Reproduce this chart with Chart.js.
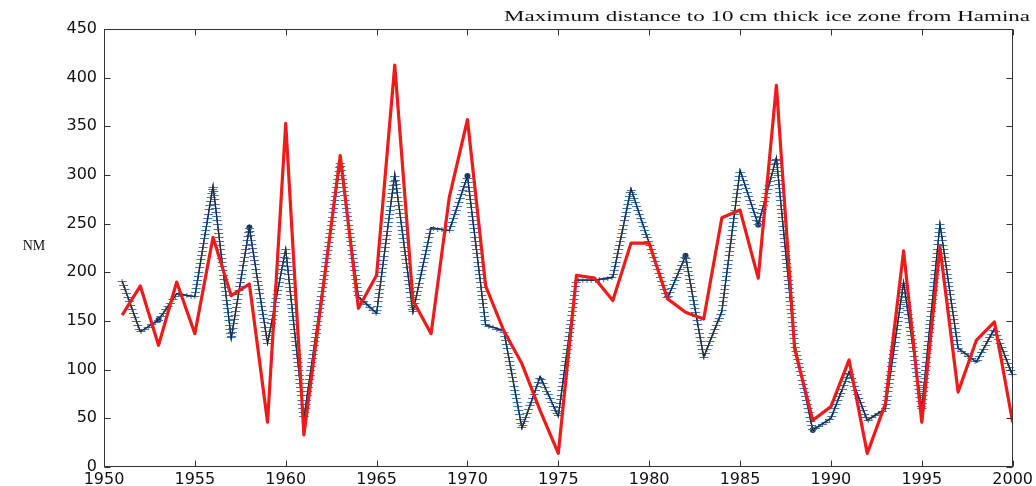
<!DOCTYPE html>
<html>
<head>
<meta charset="utf-8">
<script src="https://cdn.jsdelivr.net/npm/chart.js@4.4.0/dist/chart.umd.min.js"></script>
<style>
  html, body { margin: 0; padding: 0; background: #fff; }
  #wrap { width: 1036px; height: 486px; }
</style>
</head>
<body>
<div id="wrap"><canvas id="hamina"></canvas></div>
<script>
// Years and the two yearly series (NM)
const years = [1951, 1952, 1953, 1954, 1955, 1956, 1957, 1958, 1959, 1960,
               1961, 1962, 1963, 1964, 1965, 1966, 1967, 1968, 1969, 1970,
               1971, 1972, 1973, 1974, 1975, 1976, 1977, 1978, 1979, 1980,
               1981, 1982, 1983, 1984, 1985, 1986, 1987, 1988, 1989, 1990,
               1991, 1992, 1993, 1994, 1995, 1996, 1997, 1998, 1999, 2000];
const redDist = [156, 186, 125, 190, 137, 236, 176, 188, 46, 353,
                 33, 176, 320, 163, 197, 413, 171, 137, 277, 357,
                 186, 140, 106, 58, 14, 197, 194, 171, 230, 230,
                 173, 159, 152, 256, 264, 194, 392, 122, 48, 62,
                 110, 14, 65, 222, 46, 226, 77, 130, 149, 46];
const blueDist = [191, 139, 151, 178, 175, 289, 132, 246, 127, 224,
                  50, 181, 313, 175, 158, 301, 159, 246, 243, 299,
                  146, 140, 40, 93, 52, 192, 192, 195, 286, 230,
                  173, 217, 113, 160, 305, 249, 318, 127, 38, 50,
                  98, 48, 60, 190, 60, 250, 122, 108, 142, 94];
// years where the blue curve has a dot
const blueDots = [1953, 1958, 1970, 1982, 1986, 1989];

const xTicks = [1950, 1955, 1960, 1965, 1970, 1975, 1980, 1985, 1990, 1995, 2000];
const yTicks = [0, 50, 100, 150, 200, 250, 300, 350, 400, 450];

const titleText = 'Maximum distance to 10 cm thick ice zone from Hamina';

// caja con marcas hacia dentro en los cuatro lados
const boxFrame = {
  id: 'boxFrame',
  afterDraw(chart) {
    const ctx = chart.ctx;
    const a = chart.chartArea;
    const xs = chart.scales.x, ys = chart.scales.y;
    ctx.save();
    ctx.strokeStyle = '#333';
    ctx.lineWidth = 1;
    const L = Math.round(a.left) + 0.5, R = Math.round(a.right) - 0.5;
    const T = Math.round(a.top) + 0.5, B = Math.round(a.bottom) - 0.5;
    ctx.strokeRect(L, T, R - L, B - T);
    ctx.beginPath();
    xTicks.forEach(v => {
      const px = Math.round(xs.getPixelForValue(v)) + 0.5;
      ctx.moveTo(px, B); ctx.lineTo(px, B - 6);
      ctx.moveTo(px, T); ctx.lineTo(px, T + 6);
    });
    yTicks.forEach(v => {
      const py = Math.round(ys.getPixelForValue(v)) + 0.5;
      ctx.moveTo(L, py); ctx.lineTo(L + 6, py);
      ctx.moveTo(R, py); ctx.lineTo(R - 6, py);
    });
    ctx.stroke();
    ctx.restore();
  }
};

// marcas '+' muy juntas a lo largo de la curva azul
const plusMarks = {
  id: 'plusMarks',
  afterDatasetDraw(chart, args) {
    if (args.index !== 1) return;
    const pts = args.meta.data;
    const ctx = chart.ctx;
    const step = 4.2;
    ctx.save();
    ctx.lineWidth = 1;
    ctx.strokeStyle = '#3d72b4';
    ctx.beginPath();
    let carry = 0;
    for (let i = 1; i < pts.length; i++) {
      const p0 = pts[i - 1], p1 = pts[i];
      const dx = p1.x - p0.x, dy = p1.y - p0.y;
      const len = Math.hypot(dx, dy);
      let d = carry;
      while (d <= len) {
        const px = p0.x + dx * d / len;
        const py = Math.round(p0.y + dy * d / len) + 0.5;
        ctx.moveTo(px - 4.5, py); ctx.lineTo(px + 4.5, py);
        ctx.moveTo(px, py - 2.5); ctx.lineTo(px, py + 2.5);
        d += step;
      }
      carry = d - len;
    }
    ctx.stroke();
    // la linea oscura encima de las marcas
    ctx.strokeStyle = '#1c2838';
    ctx.lineWidth = 1.2;
    ctx.beginPath();
    pts.forEach((p, i) => i ? ctx.lineTo(p.x, p.y) : ctx.moveTo(p.x, p.y));
    ctx.stroke();
    ctx.restore();
  }
};

// titulo arriba a la derecha (ensanchado) y etiqueta NM horizontal
const labels = {
  id: 'labels',
  afterDraw(chart) {
    const ctx = chart.ctx;
    ctx.save();
    ctx.fillStyle = '#111';
    ctx.font = '15px "Liberation Serif", serif';
    ctx.textBaseline = 'alphabetic';
    ctx.textAlign = 'left';
    const w0 = ctx.measureText(titleText).width;
    const target = 526;
    const left = 1030 - target;
    ctx.translate(left, 21);
    ctx.scale(target / w0, 1);
    ctx.fillText(titleText, 0, 0);
    ctx.setTransform(1, 0, 0, 1, 0, 0);
    ctx.font = '14px "Liberation Serif", serif';
    ctx.textAlign = 'center';
    ctx.fillText('NM', 34, 250);
    ctx.restore();
  }
};

const ctx = document.getElementById('hamina').getContext('2d');

new Chart(ctx, {
  type: 'line',
  data: {
    datasets: [{
      label: 'red',
      data: years.map((y, i) => ({ x: y, y: redDist[i] })),
      borderColor: '#ef1a1a',
      borderWidth: 3.2,
      borderJoinStyle: 'round',
      pointRadius: 0,
      tension: 0,
      fill: false
    }, {
      label: 'blue',
      data: years.map((y, i) => ({ x: y, y: blueDist[i] })),
      borderColor: '#1c2838',
      borderWidth: 1.2,
      pointRadius: c => blueDots.includes(years[c.dataIndex]) ? 3 : 0,
      pointBackgroundColor: '#1e3a6a',
      pointBorderWidth: 0,
      tension: 0,
      fill: false
    }]
  },
  options: {
    responsive: true,
    maintainAspectRatio: false,
    animation: false,
    layout: { padding: { left: 0, right: 22, top: 29, bottom: 0 } },
    plugins: {
      legend: { display: false },
      tooltip: { enabled: false },
      title: { display: false }
    },
    scales: {
      x: {
        type: 'linear',
        min: 1950,
        max: 2000,
        afterBuildTicks: s => { s.ticks = xTicks.map(v => ({ value: v })); },
        afterFit: s => { s.height = 19; },
        grid: { drawOnChartArea: false, drawTicks: false },
        border: { display: false },
        ticks: {
          autoSkip: false,
          maxRotation: 0,
          padding: 3,
          color: '#111',
          font: { family: 'DejaVu Sans', size: 16 },
          callback: v => String(v)
        }
      },
      y: {
        min: 0,
        max: 450,
        afterBuildTicks: s => { s.ticks = yTicks.map(v => ({ value: v })); },
        afterFit: s => { s.width = 104; },
        grid: { drawOnChartArea: false, drawTicks: false },
        border: { display: false },
        ticks: {
          padding: 7,
          color: '#111',
          font: { family: 'DejaVu Sans', size: 16 },
          callback: v => String(v)
        }
      }
    }
  },
  plugins: [plusMarks, boxFrame, labels]
});
</script>
</body>
</html>
